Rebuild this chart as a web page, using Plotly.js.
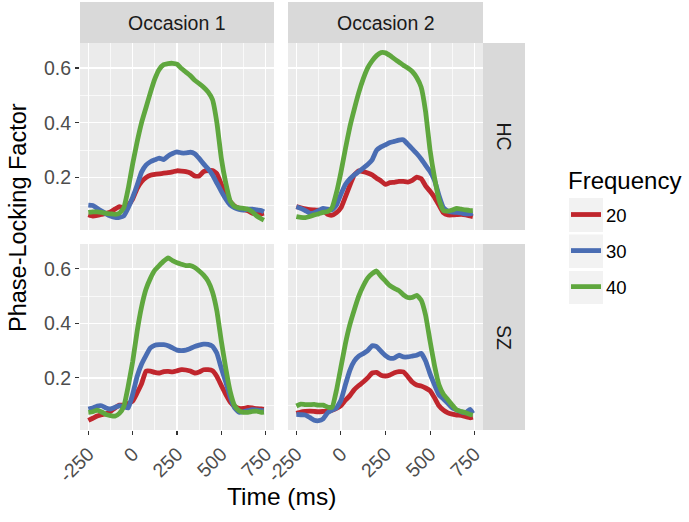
<!DOCTYPE html>
<html><head><meta charset="utf-8">
<script src="https://cdn.plot.ly/plotly-3.0.1.min.js"></script>
<style>html,body{margin:0;padding:0;background:#fff}#chart{width:689px;height:522px}</style>
</head><body><div id="chart"></div>
<script>
// ---------------- DATA ----------------
const time = [-250,-225,-200,-175,-150,-125,-100,-75,-50,-25,0,25,50,75,100,125,150,175,200,225,250,275,300,325,350,375,400,425,450,475,500,525,550,575,600,625,650,675,700,725,740];
const occasions = ['Occasion 1', 'Occasion 2'];
const groups = ['HC', 'SZ'];
const frequencies = ['20', '30', '40'];
const xTickVals = [-250, 0, 250, 500, 750];
const xTickText = ['-250', '0', '250', '500', '750'];
const yTickVals = [0.2, 0.4, 0.6];
const yTickText = ['0.2', '0.4', '0.6'];

// HC, Occasion 1
const hc_occ1_f20 = [0.065,0.060,0.062,0.066,0.070,0.075,0.085,0.094,0.090,0.100,0.122,0.160,0.185,0.200,0.209,0.212,0.214,0.216,0.218,0.221,0.225,0.224,0.222,0.217,0.206,0.206,0.222,0.226,0.226,0.214,0.176,0.140,0.113,0.096,0.088,0.083,0.079,0.070,0.067,0.068,0.070];
const hc_occ1_f30 = [0.100,0.098,0.088,0.078,0.068,0.060,0.055,0.055,0.060,0.090,0.128,0.172,0.220,0.246,0.258,0.265,0.271,0.266,0.279,0.288,0.294,0.290,0.290,0.293,0.287,0.270,0.250,0.232,0.210,0.180,0.150,0.122,0.100,0.090,0.084,0.082,0.085,0.085,0.082,0.080,0.075];
const hc_occ1_f40 = [0.073,0.075,0.075,0.073,0.070,0.068,0.066,0.070,0.090,0.160,0.250,0.330,0.400,0.455,0.510,0.560,0.595,0.612,0.616,0.617,0.614,0.598,0.585,0.572,0.555,0.543,0.530,0.513,0.485,0.400,0.270,0.180,0.115,0.095,0.090,0.088,0.085,0.075,0.060,0.050,0.045];
// HC, Occasion 2
const hc_occ2_f20 = [0.094,0.090,0.086,0.083,0.082,0.081,0.080,0.066,0.063,0.072,0.090,0.130,0.172,0.210,0.225,0.222,0.217,0.210,0.198,0.188,0.175,0.182,0.183,0.186,0.186,0.184,0.190,0.202,0.196,0.170,0.150,0.128,0.100,0.072,0.064,0.064,0.065,0.066,0.064,0.060,0.058];
const hc_occ2_f30 = [0.094,0.088,0.080,0.070,0.072,0.080,0.088,0.085,0.082,0.100,0.140,0.175,0.195,0.210,0.222,0.235,0.248,0.265,0.300,0.312,0.320,0.328,0.332,0.337,0.338,0.322,0.305,0.288,0.268,0.245,0.222,0.190,0.135,0.090,0.078,0.074,0.073,0.071,0.068,0.068,0.070];
const hc_occ2_f40 = [0.058,0.055,0.054,0.058,0.064,0.068,0.073,0.076,0.090,0.145,0.220,0.305,0.385,0.450,0.510,0.560,0.600,0.626,0.645,0.656,0.655,0.645,0.633,0.622,0.610,0.600,0.587,0.565,0.530,0.440,0.300,0.200,0.120,0.080,0.078,0.082,0.088,0.085,0.082,0.080,0.080];
// SZ, Occasion 1
const sz_occ1_f20 = [0.044,0.052,0.060,0.065,0.069,0.077,0.090,0.100,0.100,0.106,0.115,0.145,0.178,0.225,0.225,0.220,0.218,0.223,0.224,0.222,0.226,0.230,0.229,0.225,0.218,0.222,0.230,0.230,0.226,0.205,0.172,0.140,0.112,0.096,0.088,0.088,0.092,0.090,0.087,0.086,0.085];
const sz_occ1_f30 = [0.086,0.090,0.097,0.098,0.090,0.086,0.092,0.098,0.094,0.090,0.140,0.205,0.250,0.282,0.310,0.320,0.322,0.322,0.318,0.310,0.302,0.300,0.302,0.308,0.315,0.320,0.324,0.323,0.316,0.290,0.235,0.185,0.130,0.090,0.074,0.076,0.080,0.084,0.082,0.080,0.080];
const sz_occ1_f40 = [0.074,0.076,0.082,0.075,0.066,0.062,0.060,0.070,0.095,0.170,0.260,0.370,0.460,0.525,0.565,0.595,0.612,0.628,0.640,0.630,0.622,0.617,0.612,0.612,0.605,0.592,0.577,0.555,0.515,0.445,0.335,0.235,0.150,0.098,0.080,0.074,0.074,0.077,0.078,0.074,0.075];
// SZ, Occasion 2
const sz_occ2_f20 = [0.070,0.075,0.077,0.078,0.077,0.076,0.077,0.078,0.082,0.088,0.098,0.118,0.135,0.157,0.172,0.185,0.200,0.218,0.220,0.210,0.207,0.211,0.219,0.223,0.222,0.205,0.185,0.174,0.170,0.163,0.153,0.127,0.098,0.082,0.072,0.067,0.064,0.063,0.058,0.054,0.056];
const sz_occ2_f30 = [0.066,0.065,0.064,0.055,0.045,0.043,0.050,0.072,0.082,0.090,0.118,0.175,0.228,0.262,0.280,0.289,0.300,0.318,0.315,0.298,0.282,0.272,0.273,0.283,0.277,0.277,0.280,0.283,0.290,0.262,0.215,0.175,0.138,0.123,0.107,0.090,0.082,0.075,0.072,0.085,0.070];
const sz_occ2_f40 = [0.097,0.104,0.102,0.102,0.103,0.100,0.100,0.093,0.092,0.155,0.240,0.325,0.395,0.450,0.500,0.537,0.566,0.582,0.592,0.572,0.555,0.538,0.528,0.520,0.505,0.495,0.495,0.503,0.485,0.430,0.335,0.245,0.175,0.140,0.120,0.100,0.082,0.077,0.072,0.066,0.064];

const seriesByPanel = [
  [hc_occ1_f20, hc_occ1_f30, hc_occ1_f40],
  [hc_occ2_f20, hc_occ2_f30, hc_occ2_f40],
  [sz_occ1_f20, sz_occ1_f30, sz_occ1_f40],
  [sz_occ2_f20, sz_occ2_f30, sz_occ2_f40]
];

// ---------------- STYLE ----------------
const W = 689, H = 522;
const colors = ['#C0262D', '#4A6DB3', '#5FA73E'];
const px = v => v / W;
const py = v => 1 - v / H;
const colDom = [[px(80), px(274)], [px(288), px(483)]];
const rowDom = [[py(230), py(43)], [py(430), py(244)]];
const xRange = [-297, 797];
const yRange = [0.009, 0.691];
const FAM = 'Liberation Sans, Arial, sans-serif';
const tickFont = {family: FAM, size: 19.5, color: '#4D4D4D'};

const traces = [];
const layout = {
  width: W, height: H,
  margin: {l: 0, r: 0, t: 0, b: 0},
  paper_bgcolor: '#FFFFFF',
  plot_bgcolor: '#EBEBEB',
  font: {family: FAM, color: '#000'},
  showlegend: true,
  legend: {
    x: px(566), y: py(196), xanchor: 'left', yanchor: 'top',
    bgcolor: 'rgba(0,0,0,0)', borderwidth: 0,
    font: {family: FAM, size: 18.5, color: '#000'},
    tracegroupgap: 9, itemwidth: 30
  },
  shapes: [], annotations: []
};

for (let p = 0; p < 4; p++) {
  const r = Math.floor(p / 2), c = p % 2;
  const sfx = p === 0 ? '' : String(p + 1);
  const bottom = r === 1, left = c === 0;
  layout['xaxis' + sfx] = {
    domain: colDom[c], range: xRange, anchor: 'y' + sfx,
    tickmode: 'array', tickvals: xTickVals, ticktext: xTickText,
    showticklabels: bottom, ticks: bottom ? 'outside' : '', ticklen: 4, tickwidth: 1.1, tickcolor: '#333333',
    tickangle: -45, tickfont: tickFont,
    showgrid: true, gridcolor: '#FFFFFF', gridwidth: 1.4, zeroline: false, showline: false,
    minor: {tickmode: 'array', tickvals: [-125, 125, 375, 625], showgrid: true, gridcolor: '#FFFFFF', gridwidth: 0.7, ticks: ''},
    fixedrange: true
  };
  layout['yaxis' + sfx] = {
    domain: rowDom[r], range: yRange, anchor: 'x' + sfx,
    tickmode: 'array', tickvals: yTickVals, ticktext: yTickText,
    showticklabels: left, ticks: left ? 'outside' : '', ticklen: 4, tickwidth: 1.1, tickcolor: '#333333',
    tickfont: tickFont,
    showgrid: true, gridcolor: '#FFFFFF', gridwidth: 1.4, zeroline: false, showline: false,
    minor: {tickmode: 'array', tickvals: [0.1, 0.3, 0.5], showgrid: true, gridcolor: '#FFFFFF', gridwidth: 0.7, ticks: ''},
    fixedrange: true
  };
  seriesByPanel[p].forEach((vals, k) => {
    traces.push({
      type: 'scatter', mode: 'lines', x: time, y: vals,
      xaxis: 'x' + sfx, yaxis: 'y' + sfx,
      name: frequencies[k], legendgroup: 'f' + frequencies[k],
      showlegend: p === 0,
      line: {color: colors[k], width: 4.8, shape: 'spline', smoothing: 0.4},
      hoverinfo: 'skip'
    });
  });
}

// strips
const stripFill = '#D9D9D9';
const stripFont = {family: FAM, size: 19.5, color: '#1A1A1A'};
occasions.forEach((name, c) => {
  layout.shapes.push({type: 'rect', xref: 'paper', yref: 'paper', x0: colDom[c][0], x1: colDom[c][1], y0: py(43), y1: py(2), fillcolor: stripFill, line: {width: 0}, layer: 'below'});
  layout.annotations.push({xref: 'paper', yref: 'paper', x: (colDom[c][0] + colDom[c][1]) / 2, y: py(22.5), text: name, showarrow: false, font: stripFont, xanchor: 'center', yanchor: 'middle'});
});
groups.forEach((name, r) => {
  layout.shapes.push({type: 'rect', xref: 'paper', yref: 'paper', x0: px(483), x1: px(525), y0: rowDom[r][0], y1: rowDom[r][1], fillcolor: stripFill, line: {width: 0}, layer: 'below'});
  layout.annotations.push({xref: 'paper', yref: 'paper', x: px(504), y: (rowDom[r][0] + rowDom[r][1]) / 2, text: name, showarrow: false, font: stripFont, textangle: 90, xanchor: 'center', yanchor: 'middle'});
});
// legend title and key backgrounds
layout.annotations.push({xref: 'paper', yref: 'paper', x: px(566), y: py(180), text: 'Frequency', showarrow: false, font: {family: FAM, size: 24, color: '#000'}, xanchor: 'left', yanchor: 'middle'});
[[198, 232], [234.5, 268], [271, 304]].forEach(([a, b]) => {
  layout.shapes.push({type: 'rect', xref: 'paper', yref: 'paper', x0: px(569), x1: px(603), y0: py(b), y1: py(a), fillcolor: '#F2F2F2', line: {width: 0}, layer: 'below'});
});
// axis titles
layout.annotations.push({xref: 'paper', yref: 'paper', x: px(18), y: py(218), text: 'Phase-Locking Factor', textangle: -90, showarrow: false, font: {family: FAM, size: 23.5, color: '#000'}, xanchor: 'center', yanchor: 'middle'});
layout.annotations.push({xref: 'paper', yref: 'paper', x: px(281.5), y: py(496), text: 'Time (ms)', showarrow: false, font: {family: FAM, size: 24.5, color: '#000'}, xanchor: 'center', yanchor: 'middle'});

Plotly.newPlot('chart', traces, layout, {staticPlot: true, displayModeBar: false});
</script></body></html>
